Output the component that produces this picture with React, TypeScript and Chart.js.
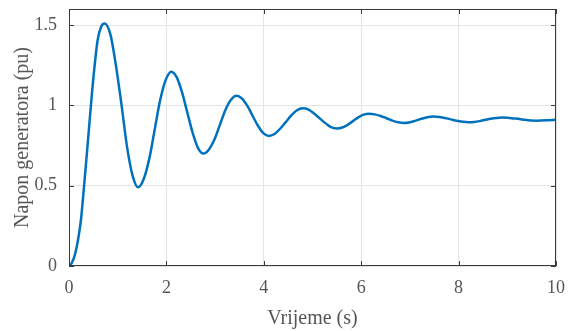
import React, { useEffect, useRef } from "react";
import { Chart, registerables } from "chart.js";

Chart.register(...registerables);

const timeS = [
  0, 0.06, 0.13, 0.2, 0.25, 0.31, 0.37, 0.45, 0.52, 0.59, 0.66, 0.73,
  0.85, 0.96, 1.08, 1.19, 1.31, 1.42,
  1.53, 1.65, 1.76, 1.87, 1.99, 2.1,
  2.21, 2.32, 2.43, 2.54, 2.65, 2.76,
  2.87, 2.99, 3.1, 3.21, 3.33, 3.44,
  3.55, 3.66, 3.77, 3.88, 3.99, 4.1,
  4.22, 4.33, 4.45, 4.57, 4.68, 4.8,
  4.92, 5.03, 5.15, 5.27, 5.38, 5.5,
  5.61, 5.72, 5.83, 5.94, 6.05, 6.16,
  6.28, 6.4, 6.52, 6.64, 6.76, 6.88,
  6.98, 7.08, 7.18, 7.28, 7.38, 7.48,
  7.6, 7.72, 7.84, 7.96, 8.08, 8.2,
  8.32, 8.43, 8.55, 8.66, 8.78, 8.89,
  9.01, 9.13, 9.25, 9.36, 9.48, 9.6,
  9.8, 10,
];
const voltagePu = [
  0, 0.02, 0.08, 0.19, 0.3, 0.5, 0.71, 1.0, 1.23, 1.41, 1.49, 1.51,
  1.442, 1.255, 1.0, 0.745, 0.558, 0.49,
  0.538, 0.67, 0.85, 1.03, 1.162, 1.21,
  1.176, 1.083, 0.955, 0.828, 0.734, 0.7,
  0.724, 0.79, 0.88, 0.97, 1.036, 1.06,
  1.043, 0.998, 0.935, 0.873, 0.827, 0.81,
  0.822, 0.853, 0.896, 0.939, 0.97, 0.982,
  0.974, 0.95, 0.919, 0.888, 0.864, 0.856,
  0.862, 0.879, 0.902, 0.925, 0.942, 0.948,
  0.944, 0.934, 0.92, 0.905, 0.895, 0.891,
  0.894, 0.901, 0.911, 0.92, 0.927, 0.93,
  0.928, 0.921, 0.913, 0.904, 0.898, 0.895,
  0.897, 0.902, 0.91, 0.917, 0.922, 0.924,
  0.923, 0.919, 0.915, 0.91, 0.906, 0.905,
  0.907, 0.911,
];
const xTicks = [0, 2, 4, 6, 8, 10];
const yTicks = [0, 0.5, 1, 1.5];
const xTitle = "Vrijeme (s)";
const yTitle = "Napon generatora (pu)";

const FONT = "'Liberation Serif', 'Times New Roman', serif";
const TEXT = "#555555";

const boxPlugin = {
  id: "boxTicks",
  afterDatasetsDraw(chart: any) {
    const { ctx, chartArea: a, scales } = chart;
    const x = scales.x;
    const y = scales.y;
    ctx.save();
    ctx.strokeStyle = "#3a3a3a";
    ctx.lineWidth = 1;
    ctx.beginPath();
    const L = 5;
    xTicks.forEach((v) => {
      const px = Math.round(x.getPixelForValue(v)) + 0.5;
      ctx.moveTo(px, a.bottom);
      ctx.lineTo(px, a.bottom - L);
      ctx.moveTo(px, a.top);
      ctx.lineTo(px, a.top + L);
    });
    yTicks.forEach((v) => {
      const py = Math.round(y.getPixelForValue(v)) + 0.5;
      ctx.moveTo(a.left, py);
      ctx.lineTo(a.left + L, py);
      ctx.moveTo(a.right, py);
      ctx.lineTo(a.right - L, py);
    });
    ctx.stroke();
    ctx.strokeRect(a.left + 0.5, a.top + 0.5, a.right - a.left - 1, a.bottom - a.top - 1);
    ctx.restore();
  },
};

const zeroPad = (s: any) => {
  s.paddingTop = 0;
  s.paddingBottom = 0;
  s.paddingLeft = 0;
  s.paddingRight = 0;
};

export default function App() {
  const ref = useRef<HTMLCanvasElement | null>(null);
  useEffect(() => {
    document.body.style.margin = "0";
    const canvas = ref.current;
    if (!canvas) return;
    const points = timeS.map((t, i) => ({ x: t, y: voltagePu[i] }));
    const chart = new Chart(canvas, {
      type: "line",
      data: {
        datasets: [
          {
            data: points,
            borderColor: "#0072BD",
            borderWidth: 2.5,
            pointRadius: 0,
            fill: false,
            cubicInterpolationMode: "monotone",
          },
        ],
      },
      options: {
        animation: false,
        responsive: false,
        maintainAspectRatio: false,
        layout: { padding: { top: 9, right: 13, left: 0, bottom: 0 } },
        plugins: { legend: { display: false }, tooltip: { enabled: false } },
        scales: {
          x: {
            type: "linear",
            min: 0,
            max: 10,
            afterFit: (s: any) => {
              s.height = 65;
              zeroPad(s);
            },
            afterBuildTicks: (s: any) => {
              s.ticks = xTicks.map((v) => ({ value: v }));
            },
            grid: { color: "#e4e4e4", lineWidth: 1, drawTicks: false },
            border: { display: false },
            ticks: {
              color: TEXT,
              font: { family: FONT, size: 18 },
              padding: 11,
              maxRotation: 0,
              callback: (v: any) => String(v),
            },
            title: {
              display: true,
              text: xTitle,
              color: TEXT,
              font: { family: FONT, size: 20 },
              padding: { top: 0, bottom: 0 },
            },
          },
          y: {
            type: "linear",
            min: 0,
            max: 1.6,
            afterFit: (s: any) => {
              s.width = 69;
              zeroPad(s);
            },
            afterBuildTicks: (s: any) => {
              s.ticks = yTicks.map((v) => ({ value: v }));
            },
            grid: { color: "#e4e4e4", lineWidth: 1, drawTicks: false },
            border: { display: false },
            ticks: {
              color: TEXT,
              font: { family: FONT, size: 18 },
              padding: 12,
              callback: (v: any) => String(v),
            },
            title: {
              display: true,
              text: yTitle,
              color: TEXT,
              font: { family: FONT, size: 20 },
              padding: { top: 11, bottom: 0 },
            },
          },
        },
      },
      plugins: [boxPlugin],
    });
    return () => chart.destroy();
  }, []);
  return (
    <div style={{ position: "absolute", left: 0, top: 0, width: 569, height: 331 }}>
      <canvas ref={ref} width={569} height={331} style={{ width: 569, height: 331 }} />
    </div>
  );
}
